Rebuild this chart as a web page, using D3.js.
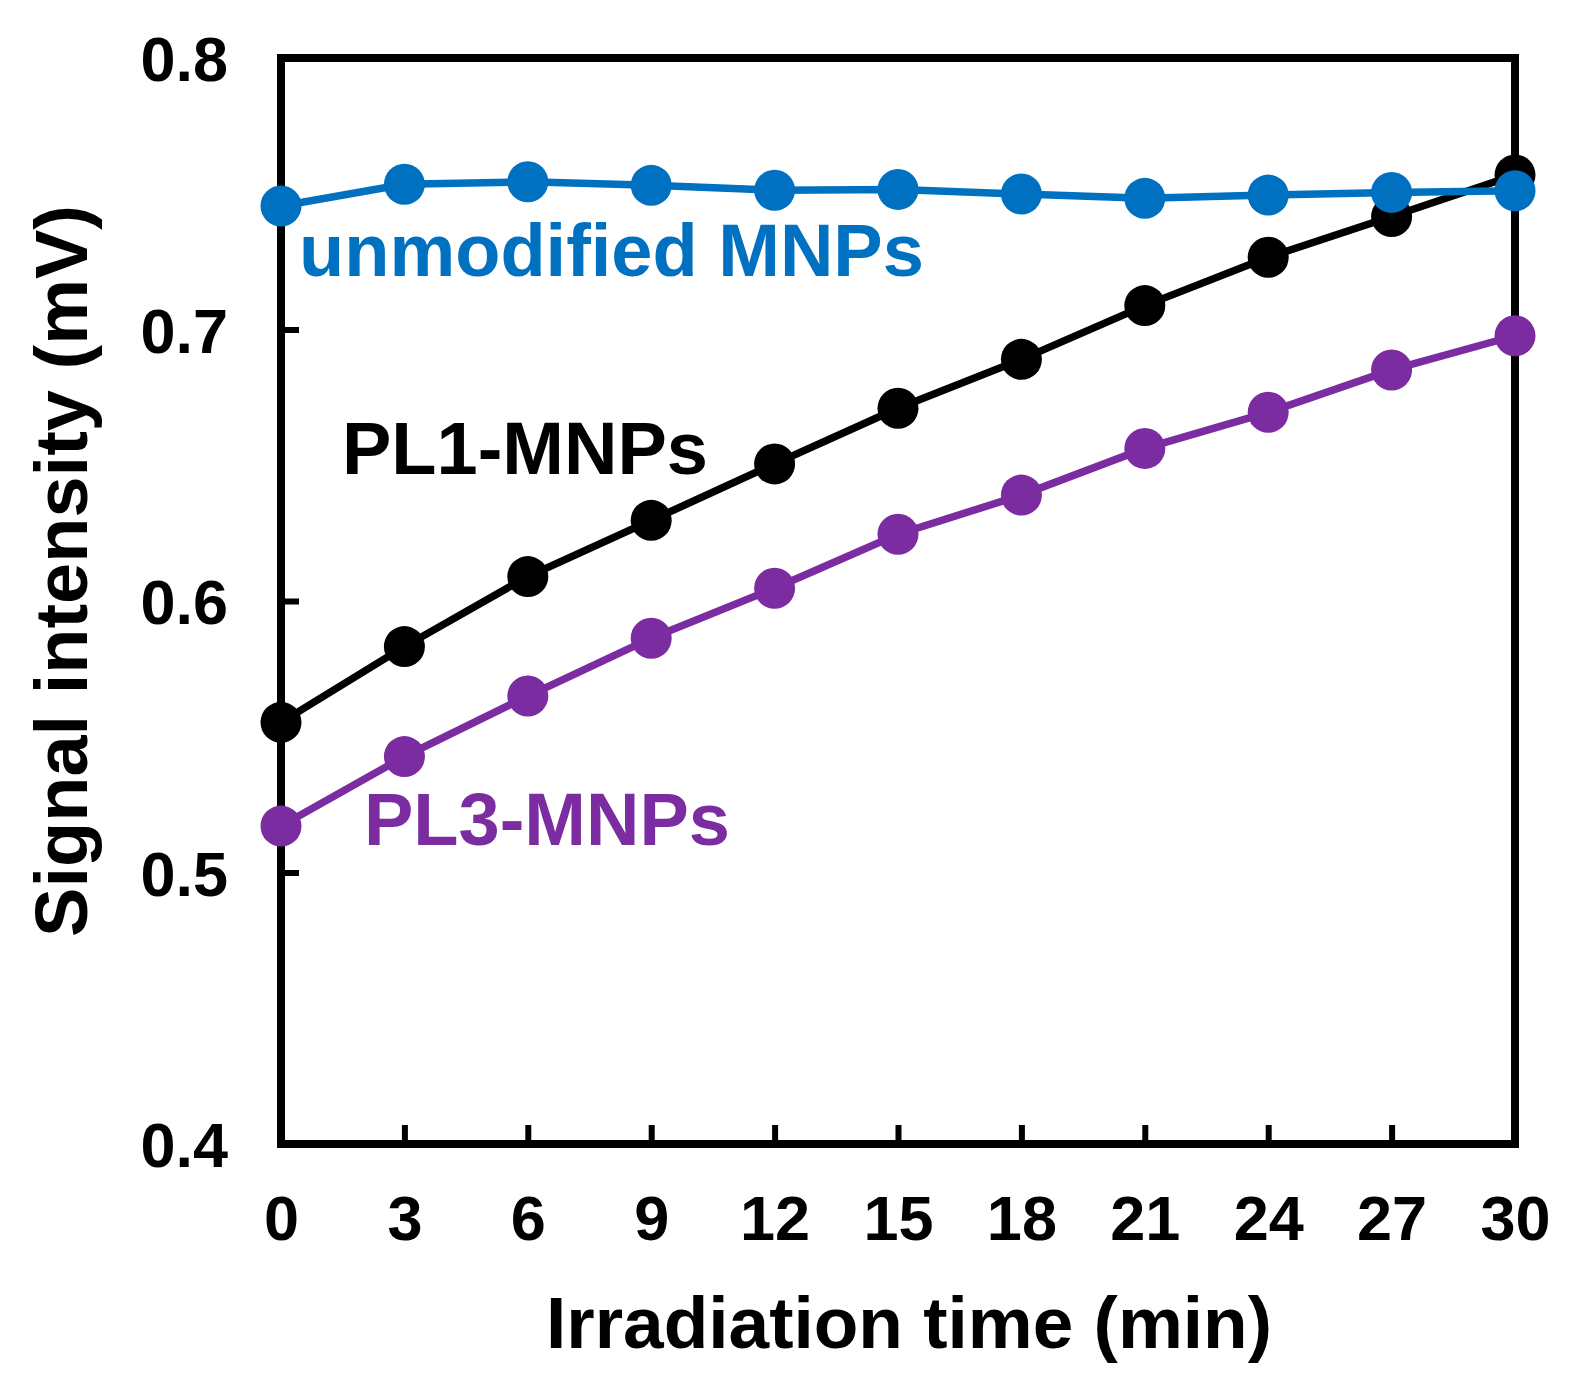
<!DOCTYPE html>
<html>
<head>
<meta charset="utf-8">
<script src="https://cdn.jsdelivr.net/npm/d3@7"></script>
<style>
  html, body { margin: 0; padding: 0; background: #fff; }
  svg { display: block; font-family: "Liberation Sans", Arial, sans-serif; font-weight: bold; }
</style>
</head>
<body>
<svg id="chart" width="1571" height="1380"></svg>
<script>
// ---- data ----
const times = [0, 3, 6, 9, 12, 15, 18, 21, 24, 27, 30];
const unmodified = [0.7455, 0.7535, 0.7544, 0.7531, 0.7513, 0.7516, 0.7499, 0.7483, 0.7495, 0.7505, 0.7511];
const pl1 = [0.5553, 0.5832, 0.6090, 0.6297, 0.6505, 0.6710, 0.6890, 0.7088, 0.7266, 0.7416, 0.7569];
const pl3 = [0.5171, 0.5427, 0.5650, 0.5863, 0.6047, 0.6246, 0.6390, 0.6562, 0.6695, 0.6851, 0.6977];
const xTicks = [0, 3, 6, 9, 12, 15, 18, 21, 24, 27, 30];
const yTicks = [0.4, 0.5, 0.6, 0.7, 0.8];
const seriesNames = ["PL3-MNPs", "PL1-MNPs", "unmodified MNPs"];
const xTitle = "Irradiation time (min)";
const yTitle = "Signal intensity (mV)";

// ---- layout ----
const pLeft = 281, pRight = 1515, pTop = 58, pBottom = 1144;
const svg = d3.select("#chart");
const x = d3.scaleLinear().domain([0, 30]).range([pLeft, pRight]);
const y = d3.scaleLinear().domain([0.4, 0.8]).range([pBottom, pTop]);

const series = [
  { name: seriesNames[0], values: pl3, color: "#7B2CA0", lx: 364, ly: 845 },
  { name: seriesNames[1], values: pl1, color: "#000000", lx: 342, ly: 474 },
  { name: seriesNames[2], values: unmodified, color: "#0070C0", lx: 299, ly: 276 }
];

// axes
const yAxis = d3.axisLeft(y).tickValues(yTicks).tickFormat(d3.format(".1f"))
  .tickSizeInner(-18).tickSizeOuter(0).tickPadding(53);
const gy = svg.append("g").attr("transform", `translate(${pLeft},0)`).call(yAxis);
gy.select(".domain").remove();
gy.selectAll(".tick line").attr("stroke", "#000").attr("stroke-width", 6);
gy.selectAll(".tick text").attr("font-size", 63).attr("font-family", "Liberation Sans, Arial, sans-serif")
  .attr("font-weight", "bold").attr("fill", "#000").attr("dy", "0.36em");

const xAxis = d3.axisBottom(x).tickValues(xTicks).tickFormat(d3.format("d"))
  .tickSizeInner(-19).tickSizeOuter(0).tickPadding(51);
const gx = svg.append("g").attr("transform", `translate(0,${pBottom})`).call(xAxis);
gx.select(".domain").remove();
gx.selectAll(".tick line").attr("stroke", "#000").attr("stroke-width", 6);
gx.selectAll(".tick text").attr("font-size", 63).attr("font-family", "Liberation Sans, Arial, sans-serif")
  .attr("font-weight", "bold").attr("fill", "#000").attr("dy", "0.71em");

// frame
svg.append("rect")
  .attr("x", pLeft).attr("y", pTop)
  .attr("width", pRight - pLeft).attr("height", pBottom - pTop)
  .attr("fill", "none").attr("stroke", "#000").attr("stroke-width", 8);

// series
const line = d3.line().x((d, i) => x(times[i])).y(d => y(d));
series.forEach(s => {
  const g = svg.append("g");
  g.append("path").datum(s.values)
    .attr("d", line).attr("fill", "none")
    .attr("stroke", s.color).attr("stroke-width", 7.5);
  g.selectAll("circle").data(s.values).enter().append("circle")
    .attr("cx", (d, i) => x(times[i])).attr("cy", d => y(d))
    .attr("r", 20.5).attr("fill", s.color);
  svg.append("text").attr("x", s.lx).attr("y", s.ly)
    .attr("font-size", 74).attr("fill", s.color).text(s.name);
});

// axis titles
svg.append("text").attr("x", 909).attr("y", 1348).attr("text-anchor", "middle")
  .attr("font-size", 73).attr("fill", "#000").text(xTitle);
svg.append("text").attr("transform", "translate(87,571) rotate(-90)")
  .attr("text-anchor", "middle").attr("font-size", 74).attr("fill", "#000").text(yTitle);
</script>
</body>
</html>
